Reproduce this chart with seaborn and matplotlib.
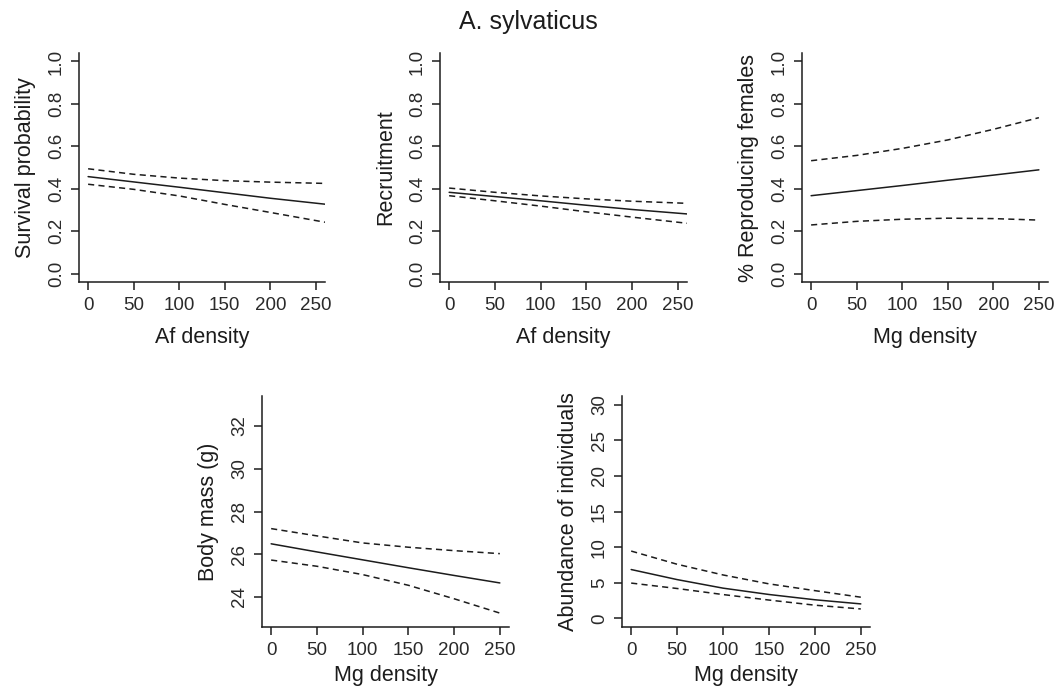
import numpy as np
import pandas as pd
import matplotlib
matplotlib.use("Agg")
import matplotlib.pyplot as plt
import seaborn as sns

# ---- data: fitted effect of congener density with 95% confidence limits ----
af_density = [0, 50, 100, 150, 200, 260]
mg_density = [0, 50, 100, 150, 200, 250]

survival_fit = [0.457, 0.432, 0.407, 0.381, 0.355, 0.327]
survival_upper = [0.494, 0.468, 0.450, 0.438, 0.431, 0.425]
survival_lower = [0.421, 0.397, 0.366, 0.326, 0.288, 0.242]

recruit_fit = [0.383, 0.363, 0.343, 0.322, 0.302, 0.281]
recruit_upper = [0.403, 0.383, 0.366, 0.352, 0.341, 0.331]
recruit_lower = [0.367, 0.343, 0.318, 0.291, 0.266, 0.237]

repro_fit = [0.367, 0.391, 0.415, 0.440, 0.464, 0.489]
repro_upper = [0.532, 0.557, 0.590, 0.630, 0.680, 0.735]
repro_lower = [0.229, 0.246, 0.256, 0.261, 0.259, 0.252]

mass_fit = [26.49, 26.11, 25.74, 25.37, 25.01, 24.66]
mass_upper = [27.20, 26.86, 26.53, 26.33, 26.17, 26.03]
mass_lower = [25.73, 25.44, 25.05, 24.55, 23.92, 23.25]

abund_fit = [6.86, 5.45, 4.25, 3.36, 2.62, 2.04]
abund_upper = [9.45, 7.60, 6.10, 4.85, 3.90, 2.98]
abund_lower = [4.96, 4.20, 3.35, 2.58, 1.86, 1.33]

x_ticks = [0, 50, 100, 150, 200, 250]
prob_ticks = [0.0, 0.2, 0.4, 0.6, 0.8, 1.0]
mass_ticks = [24, 26, 28, 30, 32]
abund_ticks = [0, 5, 10, 15, 20, 25, 30]

title = "A. sylvaticus"

# ---- styling ----
sns.set_style("ticks")
plt.rcParams["font.family"] = ["Liberation Sans", "DejaVu Sans"]
ink = "#1c1c1c"
plt.rcParams.update({
    "axes.edgecolor": ink,
    "axes.linewidth": 1.1,
    "xtick.color": ink,
    "ytick.color": ink,
    "xtick.labelcolor": "#2a2a2a",
    "ytick.labelcolor": "#2a2a2a",
    "text.color": ink,
    "axes.labelcolor": ink,
})

W, H = 1056, 693
fig = plt.figure(figsize=(W / 100, H / 100), dpi=100)


def px_axes(x0, y0, x1, y1):
    """Axes from pixel box (left, top, right, bottom)."""
    return fig.add_axes([x0 / W, 1 - y1 / H, (x1 - x0) / W, (y1 - y0) / H])


panels = [
    dict(box=(79, 53, 325, 282), x=af_density, fit=survival_fit, up=survival_upper,
         lo=survival_lower, ylim=(-0.04, 1.04), yticks=prob_ticks,
         ylabel="Survival probability", xlabel="Af density", fmt="{:.1f}", xpad=9),
    dict(box=(440, 53, 687, 282), x=af_density, fit=recruit_fit, up=recruit_upper,
         lo=recruit_lower, ylim=(-0.04, 1.04), yticks=prob_ticks,
         ylabel="Recruitment", xlabel="Af density", fmt="{:.1f}", xpad=9),
    dict(box=(802, 53, 1048, 282), x=mg_density, fit=repro_fit, up=repro_upper,
         lo=repro_lower, ylim=(-0.04, 1.04), yticks=prob_ticks,
         ylabel="% Reproducing females", xlabel="Mg density", fmt="{:.1f}", xpad=9),
    dict(box=(262, 396, 509, 627), x=mg_density, fit=mass_fit, up=mass_upper,
         lo=mass_lower, ylim=(22.6, 33.4), yticks=mass_ticks,
         ylabel="Body mass (g)", xlabel="Mg density", fmt="{:d}", xpad=4),
    dict(box=(622, 396, 870, 627), x=mg_density, fit=abund_fit, up=abund_upper,
         lo=abund_lower, ylim=(-1.2, 31.2), yticks=abund_ticks,
         ylabel="Abundance of individuals", xlabel="Mg density", fmt="{:d}", xpad=4),
]

dash = (4, 2.8)
for p in panels:
    ax = px_axes(*p["box"])
    n = len(p["x"])
    df = pd.DataFrame({
        "density": list(p["x"]) * 3,
        "value": list(p["fit"]) + list(p["up"]) + list(p["lo"]),
        "curve": ["fit"] * n + ["upper"] * n + ["lower"] * n,
    })
    sns.lineplot(data=df, x="density", y="value", style="curve",
                 dashes={"fit": "", "upper": dash, "lower": dash},
                 color=ink, linewidth=1.1, estimator=None, sort=False,
                 legend=False, ax=ax)
    ax.set_xlim(-10, 260)
    ax.set_ylim(*p["ylim"])
    ax.set_xticks(x_ticks)
    ax.set_yticks(p["yticks"])
    ax.set_xticklabels([str(v) for v in x_ticks])
    ax.set_yticklabels([p["fmt"].format(v) for v in p["yticks"]],
                       rotation=90, va="center")
    ax.tick_params(axis="both", length=6, width=1.1, labelsize=13.5)
    ax.tick_params(axis="x", pad=5)
    ax.tick_params(axis="y", pad=4)
    ax.set_xlabel(p["xlabel"], fontsize=15.5, labelpad=p["xpad"])
    ax.set_ylabel(p["ylabel"], fontsize=15.5, labelpad=9)
    ax.spines["top"].set_visible(False)
    ax.spines["right"].set_visible(False)

fig.text(528 / W, 1 - 22 / H, title, ha="center", va="center", fontsize=18)

fig.savefig("out.png", dpi=100)
